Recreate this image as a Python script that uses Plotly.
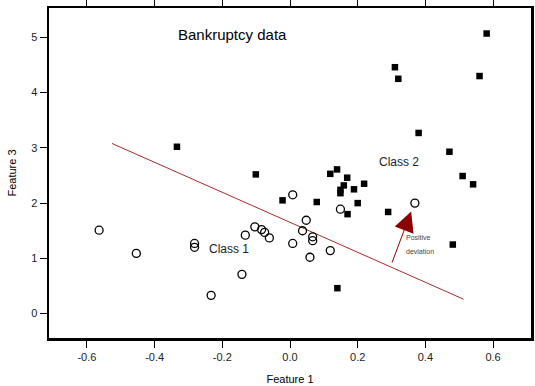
import plotly.graph_objects as go

# Class 1 (open circles)
class1_x = [-0.564, -0.454, -0.282, -0.282, -0.233, -0.142, -0.132, -0.104, -0.084, -0.075,
            -0.061, 0.008, 0.037, 0.048, 0.008, 0.149, 0.067, 0.067, 0.059, 0.119, 0.369]
class1_y = [1.51, 1.09, 1.27, 1.20, 0.33, 0.71, 1.42, 1.57, 1.52, 1.47,
            1.37, 1.27, 1.50, 1.69, 2.15, 1.89, 1.39, 1.32, 1.02, 1.14, 2.00]

# Class 2 (filled squares)
class2_x = [-0.334, -0.101, -0.022, 0.079, 0.149, 0.149, 0.200, 0.170, 0.290, 0.481,
            0.140, 0.581, 0.310, 0.320, 0.560, 0.380, 0.471, 0.510, 0.541, 0.119,
            0.139, 0.169, 0.159, 0.189, 0.219]
class2_y = [3.02, 2.52, 2.05, 2.02, 2.24, 2.18, 2.00, 1.80, 1.84, 1.25,
            0.46, 5.07, 4.46, 4.25, 4.30, 3.27, 2.93, 2.49, 2.34, 2.53,
            2.61, 2.46, 2.32, 2.25, 2.35]

# Separating line
line_x = [-0.526, 0.513]
line_y = [3.08, 0.26]

# Deviation arrow (tail -> head)
arrow_tail = (0.300, 0.90)
arrow_head = (0.358, 1.85)

x_ticks = [-0.6, -0.4, -0.2, 0.0, 0.2, 0.4, 0.6]
x_tick_labels = ["-0.6", "-0.4", "-0.2", "0.0", "0.2", "0.4", "0.6"]
y_ticks = [0, 1, 2, 3, 4, 5]

font_family = "Liberation Sans, Arial, sans-serif"
x_range = [-0.715, 0.715]
y_range = [-0.46, 5.55]

fig = go.Figure()
fig.add_trace(go.Scatter(x=line_x, y=line_y, mode="lines",
                         line=dict(color="#a52a2a", width=1), showlegend=False))
fig.add_trace(go.Scatter(x=class1_x, y=class1_y, mode="markers",
                         marker=dict(symbol="circle-open", size=8, color="black",
                                     line=dict(width=1.3, color="black")),
                         showlegend=False))
fig.add_trace(go.Scatter(x=class2_x, y=class2_y, mode="markers",
                         marker=dict(symbol="square", size=6.5, color="black"),
                         showlegend=False))

fig.add_annotation(x=arrow_head[0], y=arrow_head[1], ax=arrow_tail[0], ay=arrow_tail[1],
                   xref="x", yref="y", axref="x", ayref="y", text="",
                   showarrow=True, arrowhead=2, arrowsize=4, arrowwidth=1,
                   arrowcolor="#8b0000", standoff=0)

fig.add_annotation(x=-0.337, y=5.06, text="Bankruptcy data", showarrow=False,
                   xanchor="left", yanchor="middle",
                   font=dict(family=font_family, size=15, color="black"))
fig.add_annotation(x=0.257, y=2.75, text="Class 2", showarrow=False,
                   xanchor="left", yanchor="middle",
                   font=dict(family=font_family, size=12, color="#222222"))
fig.add_annotation(x=-0.245, y=1.17, text="Class 1", showarrow=False,
                   xanchor="left", yanchor="middle",
                   font=dict(family=font_family, size=12, color="#222222"))
fig.add_annotation(x=0.337, y=1.37, text="Positive", showarrow=False,
                   xanchor="left", yanchor="middle",
                   font=dict(family=font_family, size=7, color="#444444"))
fig.add_annotation(x=0.337, y=1.13, text="deviation", showarrow=False,
                   xanchor="left", yanchor="middle",
                   font=dict(family=font_family, size=7, color="#444444"))

fig.add_shape(type="rect", xref="paper", yref="paper", x0=0, y0=0, x1=1, y1=1,
              line=dict(color="black", width=2), layer="above")

fig.update_layout(
    template="none",
    width=535, height=386,
    margin=dict(l=48, r=3, t=7, b=47, autoexpand=False),
    paper_bgcolor="white", plot_bgcolor="white",
    hovermode=False,
    font=dict(family=font_family, size=11, color="black"),
    xaxis=dict(range=x_range, tickvals=x_ticks, ticktext=x_tick_labels, automargin=False,
               ticks="outside", ticklen=7, tickwidth=1, tickcolor="black",
               showline=True, linecolor="black", linewidth=1.5, mirror="allticks",
               showgrid=False, zeroline=False,
               title=dict(text="Feature 1", font=dict(size=11)),
               tickfont=dict(size=11, color="#222222")),
    yaxis=dict(range=y_range, tickvals=y_ticks, automargin=False,
               ticks="outside", ticklen=7, tickwidth=1, tickcolor="black",
               showline=True, linecolor="black", linewidth=1.5, mirror=True,
               showgrid=False, zeroline=False,
               title=dict(text="Feature 3", font=dict(size=11)),
               tickfont=dict(size=11, color="#222222")),
)

fig.write_html("out.html", config={"displayModeBar": False, "staticPlot": True})
